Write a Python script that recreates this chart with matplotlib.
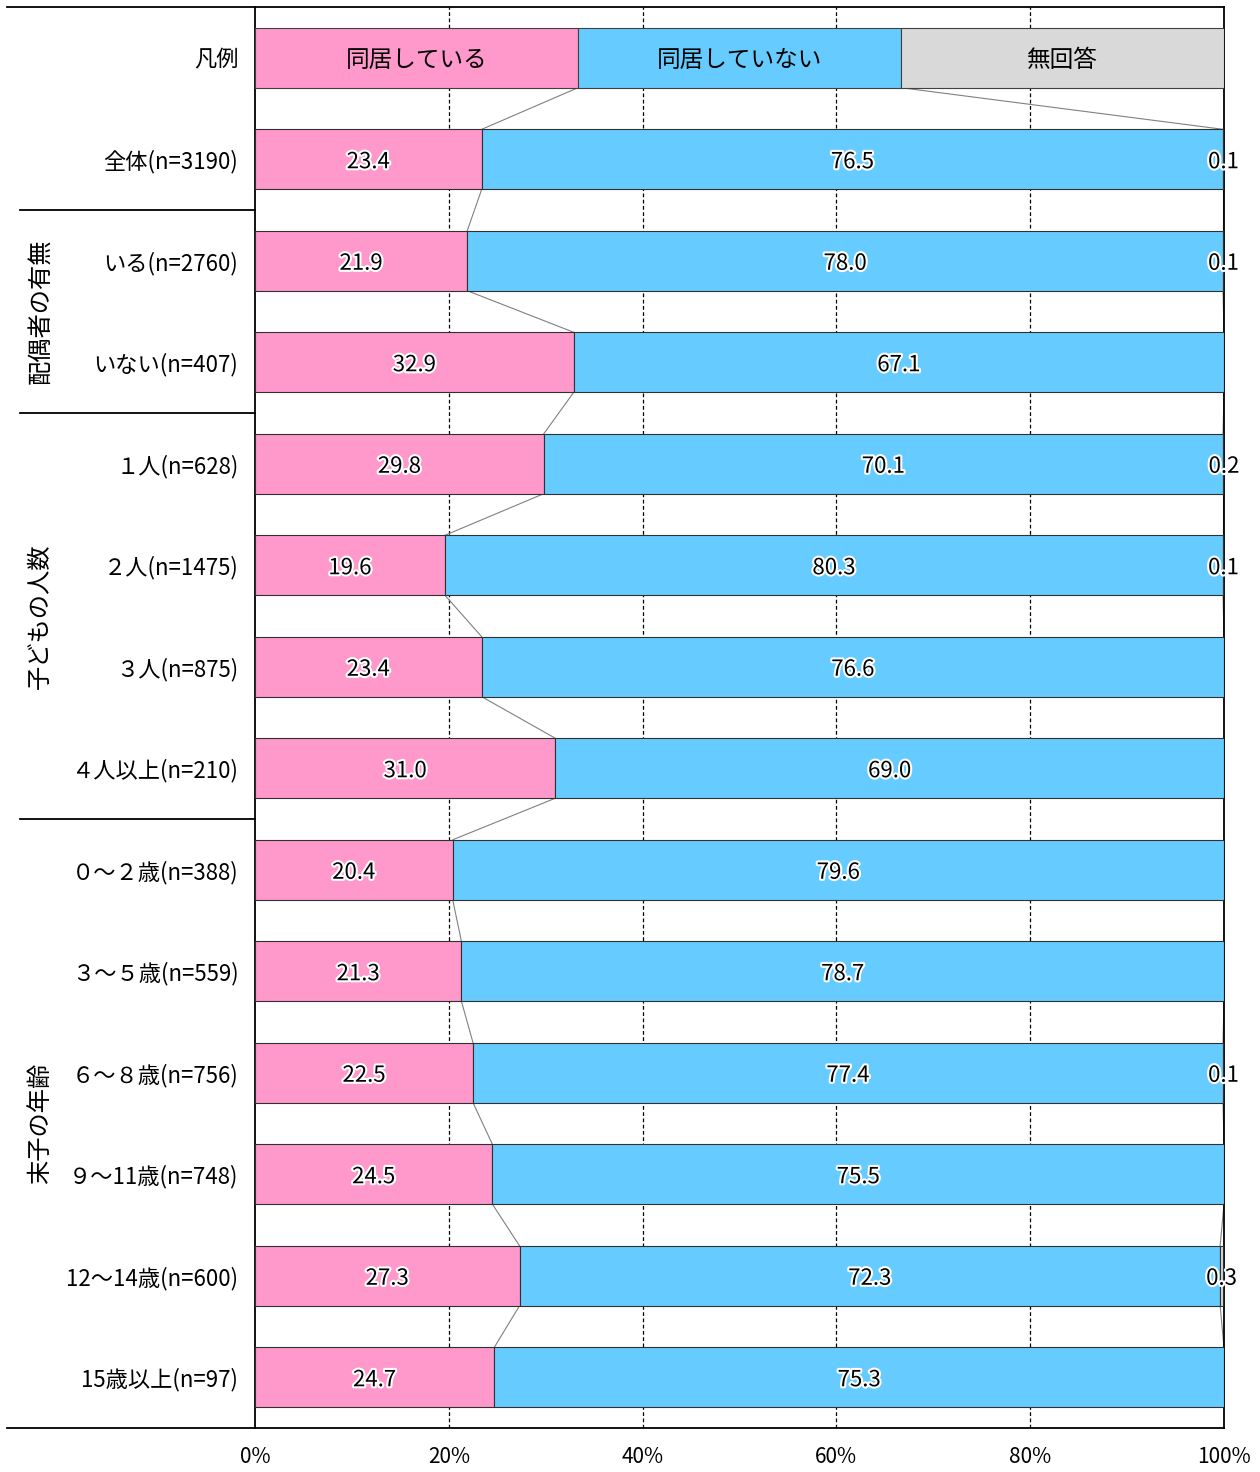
import numpy as np
import matplotlib.pyplot as plt
import matplotlib.patheffects as pe
import matplotlib.transforms as mtransforms

plt.rcParams['font.family'] = ['Noto Sans CJK JP', 'DejaVu Sans']

# series names and colours
series = ['同居している', '同居していない', '無回答']
colors = ['#FF99CC', '#66CCFF', '#D9D9D9']

categories = ['全体(n=3190)',
              'いる(n=2760)', 'いない(n=407)',
              '１人(n=628)', '２人(n=1475)', '３人(n=875)', '４人以上(n=210)',
              '０～２歳(n=388)', '３～５歳(n=559)', '６～８歳(n=756)',
              '９～11歳(n=748)', '12～14歳(n=600)', '15歳以上(n=97)']

living_with = [23.4, 21.9, 32.9, 29.8, 19.6, 23.4, 31.0, 20.4, 21.3, 22.5, 24.5, 27.3, 24.7]
not_living_with = [76.5, 78.0, 67.1, 70.1, 80.3, 76.6, 69.0, 79.6, 78.7, 77.4, 75.5, 72.3, 75.3]
no_answer = [0.1, 0.1, 0.0, 0.2, 0.1, 0.0, 0.0, 0.0, 0.0, 0.1, 0.0, 0.3, 0.0]

# group titles and the rows (1-based, row 0 is the legend) they cover
groups = ['配偶者の有無', '子どもの人数', '末子の年齢']
group_rows = [(2, 3), (4, 7), (8, 13)]

values = np.array([living_with, not_living_with, no_answer])

fig = plt.figure(figsize=(12.6, 14.72), dpi=100)
ax = fig.add_axes([255 / 1260, 1 - 1428 / 1472, 969 / 1260, 1421 / 1472])

n = len(categories)
ypos = np.arange(1, n + 1)
h = 0.59
glow = [pe.withStroke(linewidth=3, foreground='white')]

# legend row drawn as a bar of three equal parts
left = 0
for name, c in zip(series, colors):
    ax.barh(0, 100 / 3, left=left, height=h, color=c, edgecolor='#404040', linewidth=0.8, zorder=3)
    ax.text(left + 100 / 6, 0, name, ha='center', va='center_baseline', fontsize=17, zorder=4)
    left += 100 / 3

# stacked bars
lefts = np.zeros(n)
for k in range(3):
    ax.barh(ypos, values[k], left=lefts, height=h, color=colors[k],
            edgecolor='#303030', linewidth=0.8, zorder=3)
    for i in range(n):
        v = values[k][i]
        if v > 0:
            ax.text(lefts[i] + v / 2, ypos[i], f'{v:.1f}', ha='center', va='center_baseline',
                    fontsize=16, path_effects=glow, zorder=5, clip_on=False)
    lefts += values[k]

# series lines between neighbouring bars
cum = np.cumsum(values[:2], axis=0)
legend_bounds = [100 / 3, 200 / 3]
for b in range(2):
    xs = [legend_bounds[b]] + list(cum[b])
    for i in range(n):
        ax.plot([xs[i], xs[i + 1]], [i + h / 2, i + 1 - h / 2], color='#808080', lw=0.8, zorder=2)

ax.set_xlim(0, 100)
ax.set_ylim(n + 0.5, -0.5)
ax.set_xticks(np.arange(0, 101, 20))
ax.set_xticklabels([f'{t}%' for t in range(0, 101, 20)], fontsize=15)
ax.set_yticks(np.arange(0, n + 1))
ax.set_yticklabels(['凡例'] + categories, fontsize=16)
ax.tick_params(length=0)
ax.tick_params(axis='x', pad=13)
ax.tick_params(axis='y', pad=12)
for x in [20, 40, 60, 80]:
    ax.axvline(x, color='black', lw=0.9, ls=(0, (3, 2)), zorder=1)
for s in ax.spines.values():
    s.set_color('black')
    s.set_linewidth(1.3)

# table rules on the left side
trans = mtransforms.blended_transform_factory(ax.transAxes, ax.transData)
ax.plot([-0.256, 0], [-0.5, -0.5], color='black', lw=1.3, transform=trans, clip_on=False)
ax.plot([-0.256, 0], [n + 0.5, n + 0.5], color='black', lw=1.3, transform=trans, clip_on=False)
for (a, b), g in zip(group_rows, groups):
    ax.plot([-0.243, 0], [a - 0.5, a - 0.5], color='black', lw=1.3, transform=trans, clip_on=False)
    ax.text(-0.222, (a + b) / 2, g, rotation=90, ha='center', va='center',
            fontsize=17.5, transform=trans)

fig.savefig('out.png', dpi=100)
